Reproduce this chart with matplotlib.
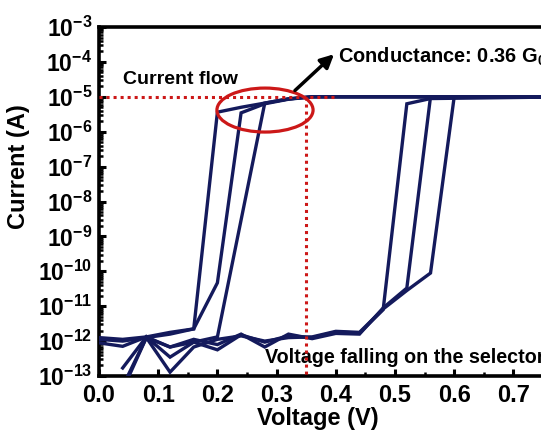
import numpy as np
import matplotlib
matplotlib.use("Agg")
import matplotlib.pyplot as plt
from matplotlib.patches import Ellipse
from matplotlib.ticker import MultipleLocator, LogLocator, FuncFormatter, NullFormatter

plt.rcParams['font.family'] = ['Liberation Sans', 'DejaVu Sans']
plt.rcParams['font.weight'] = 'bold'
plt.rcParams['mathtext.fontset'] = 'custom'
plt.rcParams['mathtext.rm'] = 'Liberation Sans:bold'
plt.rcParams['mathtext.bf'] = 'Liberation Sans:bold'
plt.rcParams['mathtext.it'] = 'Liberation Sans:bold:italic'

# ---- data (log10 of current in A) ----
# forward sweeps
v_f1 = [0.0, 0.04, 0.08, 0.12, 0.16, 0.20, 0.24, 0.28, 0.32, 0.36, 0.80]
logi_f1 = [-11.90, -11.95, -11.88, -11.75, -11.65, -5.44, -5.30, -5.18, -5.06, -5.00, -5.00]
v_f2 = [0.0, 0.04, 0.08, 0.12, 0.16, 0.20, 0.24, 0.28, 0.32, 0.36, 0.80]
logi_f2 = [-11.95, -12.00, -11.90, -11.80, -11.65, -10.33, -5.46, -5.20, -5.07, -5.00, -5.00]
v_f3 = [0.0, 0.04, 0.08, 0.12, 0.16, 0.20, 0.28, 0.32, 0.36, 0.80]
logi_f3 = [-12.05, -12.15, -11.88, -12.17, -12.03, -11.88, -5.18, -5.06, -5.00, -5.00]
# backward sweeps
v_b1 = [0.80, 0.56, 0.52, 0.48, 0.44, 0.40, 0.36, 0.32, 0.28, 0.24, 0.20, 0.16, 0.12, 0.08, 0.04]
logi_b1 = [-5.00, -5.05, -5.20, -11.10, -11.77, -11.74, -11.90, -11.85, -12.03, -11.82, -12.25, -12.03, -12.46, -11.88, -12.77]
v_b2 = [0.80, 0.56, 0.52, 0.48, 0.44, 0.40, 0.36, 0.32, 0.28, 0.24, 0.20, 0.16, 0.12, 0.08, 0.04]
logi_b2 = [-5.00, -5.00, -10.48, -11.05, -11.80, -11.78, -11.93, -11.80, -12.17, -11.80, -12.10, -11.95, -12.17, -11.90, -13.30]
v_b3 = [0.80, 0.60, 0.56, 0.52, 0.48, 0.44, 0.40, 0.36, 0.32, 0.28, 0.24, 0.20, 0.16, 0.12, 0.08, 0.04]
logi_b3 = [-5.00, -5.00, -10.05, -10.55, -11.08, -11.75, -11.72, -11.88, -11.90, -12.00, -11.85, -11.95, -12.17, -12.89, -11.90, -13.40]

sweeps = [(v_f1, logi_f1), (v_f2, logi_f2), (v_f3, logi_f3),
          (v_b1, logi_b1), (v_b2, logi_b2), (v_b3, logi_b3)]

compliance = 1e-5
v_marker = 0.35
x_ticks = [0.0, 0.1, 0.2, 0.3, 0.4, 0.5, 0.6, 0.7]

navy = '#141a5c'
red = '#cc1818'

fig = plt.figure(figsize=(5.41, 4.37), dpi=100)
ax = fig.add_axes([0.183, 0.1396, 0.8754, 0.7986])

for v, li in sweeps:
    ax.plot(v, 10.0**np.array(li), color=navy, lw=2.4, solid_joinstyle='miter', zorder=3)

ax.set_yscale('log')
ax.set_ylim(1e-13, 1e-3)
ax.set_xlim(0, 0.8)

# red dotted guides
ax.plot([0.0, 0.40], [compliance, compliance], color=red, lw=2.2,
        linestyle=(0, (1, 1.3)), zorder=4)
ax.plot([v_marker, v_marker], [compliance, 1e-13], color=red, lw=2.2,
        linestyle=(0, (1, 1.3)), zorder=4)

# ellipse
ell = Ellipse((0.3505, 0.762), 0.203, 0.126, transform=ax.transAxes,
              fill=False, edgecolor=red, lw=2.3, zorder=5)
ax.add_patch(ell)

# arrow
ax.annotate('', xy=(0.397, 10**-3.78), xytext=(0.331, 10**-4.82),
            arrowprops=dict(arrowstyle='-|>', lw=2.5, color='black',
                            mutation_scale=20, shrinkA=0, shrinkB=0), zorder=6)

ax.text(0.0507, 0.851, 'Current flow', transform=ax.transAxes, fontsize=14,
        fontweight='bold', va='center', ha='left')
ax.text(0.505, 0.914, r'Conductance: 0.36 G$_\mathbf{0}$', transform=ax.transAxes,
        fontsize=14.4, fontweight='bold', va='center', ha='left')
ax.text(0.3505, 0.054, 'Voltage falling on the selector', transform=ax.transAxes,
        fontsize=14.2, fontweight='bold', va='center', ha='left')

# axes styling
for s in ax.spines.values():
    s.set_linewidth(2.6)
ax.set_xticks(x_ticks)
ax.xaxis.set_minor_locator(MultipleLocator(0.05))
ax.xaxis.set_major_formatter(FuncFormatter(lambda x, p: f'{x:.1f}'))
ax.yaxis.set_major_locator(LogLocator(base=10, numticks=20))
ax.yaxis.set_minor_locator(LogLocator(base=10, subs=np.arange(2, 10), numticks=20))
ax.yaxis.set_minor_formatter(NullFormatter())
ax.yaxis.set_major_formatter(FuncFormatter(
    lambda y, p: r'$\mathbf{10^{-%d}}$' % abs(int(round(np.log10(y))))))
ax.tick_params(axis='both', which='major', direction='in', length=5, width=2.2,
               labelsize=17, pad=6)
ax.tick_params(axis='both', which='minor', direction='in', length=3, width=1.8)
ax.tick_params(axis='y', which='major', labelsize=16.5, pad=5)
for lab in ax.get_xticklabels() + ax.get_yticklabels():
    lab.set_fontweight('bold')

fig.text(318 / 541, 1 - 418 / 437, 'Voltage (V)', fontsize=17, fontweight='bold',
         ha='center', va='center')
fig.text(19 / 541, 1 - 167 / 437, 'Current (A)', fontsize=17, fontweight='bold',
         ha='center', va='center', rotation=90)

fig.savefig('out.png', dpi=100)
